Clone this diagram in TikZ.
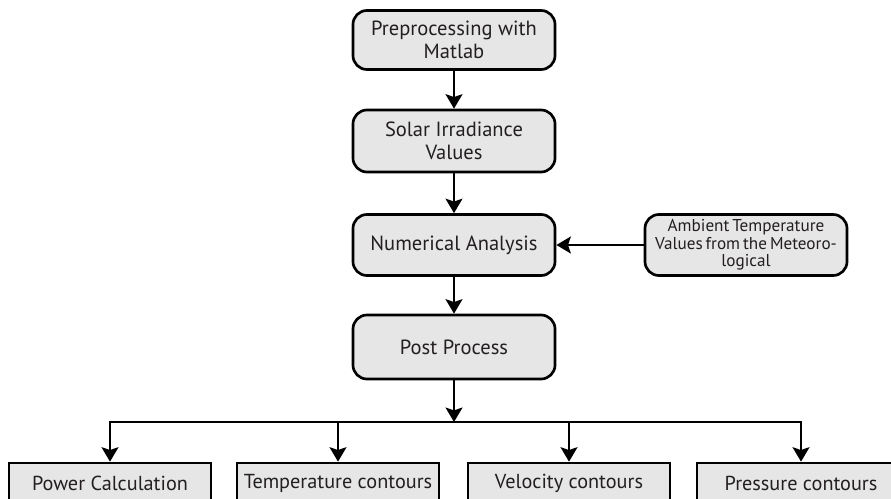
\documentclass[tikz,border=0pt]{standalone}
\usepackage{fontspec}
\setmainfont{PT Sans}
\newfontfamily\tightsans[WordSpace=0.65]{PT Sans}
\usetikzlibrary{arrows.meta}
\definecolor{boxgray}{HTML}{E6E6E6}
\definecolor{inkgray}{HTML}{231F20}
\begin{document}
\begin{tikzpicture}[x=0.025cm,y=-0.025cm,
    proc/.style={draw=black,line width=1.9pt,fill=boxgray,rounded corners=0.35cm,
      text=inkgray,align=center,inner sep=0pt,minimum width=5.05cm,minimum height=1.5cm,
      font=\fontsize{14.6}{16}\selectfont},
    side/.style={proc,font=\tightsans\fontsize{12.2}{12.4}\selectfont},
    leaf/.style={draw=black,line width=1.9pt,fill=boxgray,text=inkgray,inner sep=0pt,
      minimum width=5.05cm,minimum height=1cm,font=\fontsize{14.4}{16}\selectfont},
    flow/.style={line width=1.9pt,-{Stealth[length=3.6mm,width=4.2mm,inset=0.7mm]}}]
    \useasboundingbox (0,0) rectangle (891,498);
    \clip (0,0) rectangle (891,498);
    \node[proc,minimum height=1.475cm] (pre) at (454,40) {Preprocessing with\\Matlab};
    \node[proc,minimum height=1.55cm] (solar) at (454,141) {Solar Irradiance\\Values};
    \node[proc,minimum height=1.525cm] (num) at (454,245) {Numerical Analysis};
    \node[side,minimum height=1.525cm] (amb) at (746,245)
      {Ambient Temperature\\Values from the Meteoro-\\logical};
    \node[proc,minimum height=1.6cm] (post) at (454,347) {Post Process};
    \coordinate (bus) at (454,422);
    \node[leaf] (power) at (110,483) {Power Calculation};
    \node[leaf] (temp) at (338,483) {Temperature contours};
    \node[leaf] (vel) at (569,483) {Velocity contours};
    \node[leaf,minimum width=5.2cm] (pres) at (801,483) {Pressure contours};
    \draw[flow] (pre) -- (solar);    % pre -- solar
    \draw[flow] (solar) -- (num);    % solar -- num
    \draw[flow] (amb) -- (num);      % amb -- num
    \draw[flow] (num) -- (post);     % num -- post
    \draw[flow] (post) -- (bus);     % post -- bus
    \draw[flow] (bus) -| (power);    % bus -- power
    \draw[flow] (bus) -| (temp);     % bus -- temp
    \draw[flow] (bus) -| (vel);      % bus -- vel
    \draw[flow] (bus) -| (pres);     % bus -- pres
\end{tikzpicture}
\end{document}
